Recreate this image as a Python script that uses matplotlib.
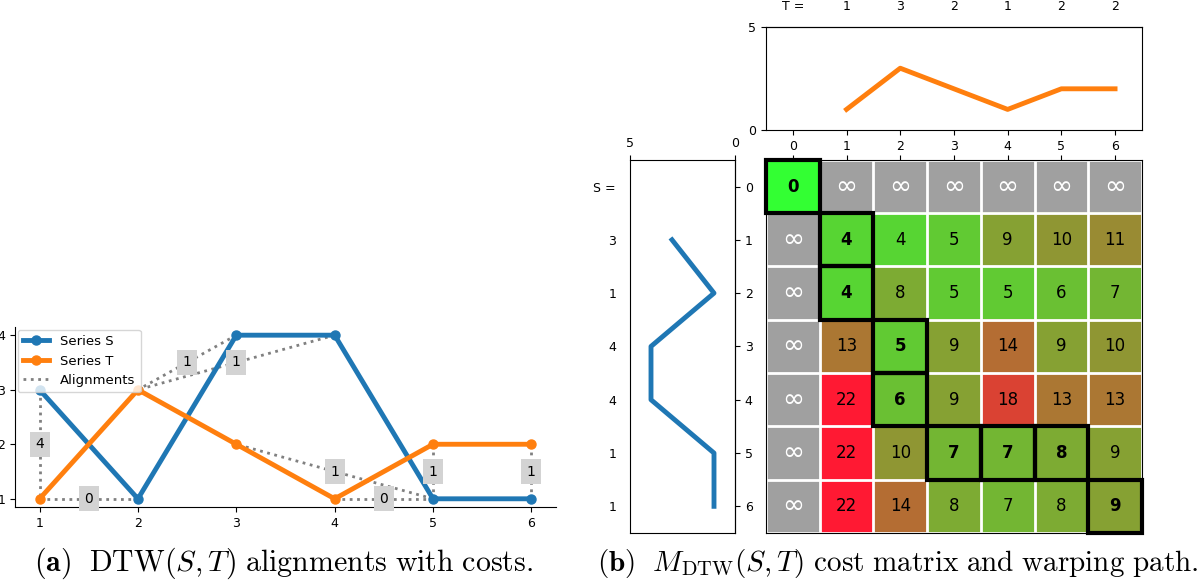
import numpy as np
import matplotlib
matplotlib.use('Agg')
import matplotlib.pyplot as plt
from matplotlib.colors import LinearSegmentedColormap
from matplotlib.patches import Rectangle

plt.rcParams['mathtext.fontset'] = 'cm'

# series
idx = [1, 2, 3, 4, 5, 6]
S = [3, 1, 4, 4, 1, 1]
T = [1, 3, 2, 1, 2, 2]

# alignments: (position in S, position in T, cost)
align_s = [1, 2, 3, 4, 5, 5, 5, 6]
align_t = [1, 1, 2, 2, 3, 4, 5, 6]
align_cost = [4, 0, 1, 1, 1, 0, 1, 1]

# cumulative cost matrix (inf = not reachable)
INF = np.inf
M = np.array([
    [0, INF, INF, INF, INF, INF, INF],
    [INF, 4, 4, 5, 9, 10, 11],
    [INF, 4, 8, 5, 5, 6, 7],
    [INF, 13, 5, 9, 14, 9, 10],
    [INF, 22, 6, 9, 18, 13, 13],
    [INF, 22, 10, 7, 7, 8, 9],
    [INF, 22, 14, 8, 7, 8, 9],
])
path_rows = [0, 1, 2, 3, 4, 5, 5, 5, 6]
path_cols = [0, 1, 1, 2, 2, 3, 4, 5, 6]

blue = '#1f77b4'
orange = '#ff7f0e'

fig = plt.figure(figsize=(12, 5.83), dpi=100)

# ---------- (a) alignments ----------
ax = fig.add_axes([0.0125, 0.1304, 0.4508, 0.3087])
first = True
for i, j, c in zip(align_s, align_t, align_cost):
    xs = [i, j]
    ys = [S[i - 1], T[j - 1]]
    ax.plot(xs, ys, ':', color='gray', lw=2, zorder=1,
            label='Alignments' if first else None)
    first = False
    ax.text((i + j) / 2, (ys[0] + ys[1]) / 2, str(c), fontsize=10,
            ha='center', va='center', zorder=5,
            bbox=dict(facecolor='lightgray', edgecolor='none', pad=4))
ax.plot(idx, S, '-o', color=blue, lw=3.5, ms=6.5, label='Series S', zorder=3)
ax.plot(idx, T, '-o', color=orange, lw=3.5, ms=6.5, label='Series T', zorder=3)
h, l = ax.get_legend_handles_labels()
ax.legend([h[1], h[2], h[0]], [l[1], l[2], l[0]], loc='upper left',
          fontsize=9.5, borderaxespad=0.2)
ax.spines['top'].set_visible(False)
ax.spines['right'].set_visible(False)
ax.set_xticks(idx)
ax.set_yticks([1, 2, 3, 4])
ax.tick_params(labelsize=9)

# ---------- (b) cost matrix ----------
cmap = LinearSegmentedColormap.from_list('gr', [(0.2, 1.0, 0.2), (1.0, 0.1, 0.2)])
cmap.set_bad('#a0a0a0')
axm = fig.add_axes([0.6383, 0.0858, 0.3133, 0.640])
axm.imshow(np.ma.masked_invalid(M), cmap=cmap, vmin=0, vmax=22, aspect='auto')
n = M.shape[0]
axm.set_xticks(np.arange(n))
axm.set_xticklabels([])
axm.xaxis.tick_top()
axm.set_yticks([])
axm.set_xticks(np.arange(-0.5, n, 1), minor=True)
axm.set_yticks(np.arange(-0.5, n, 1), minor=True)
axm.grid(which='minor', color='white', lw=2)
axm.tick_params(which='minor', length=0)
on_path = set(zip(path_rows, path_cols))
for r in range(n):
    for c in range(n):
        v = M[r, c]
        if np.isinf(v):
            axm.text(c, r, '∞', color='white', ha='center', va='center', fontsize=19)
        else:
            axm.text(c, r, str(int(v)), color='black', ha='center', va='center',
                     fontsize=12, fontweight='bold' if (r, c) in on_path else 'normal')
for r, c in zip(path_rows, path_cols):
    axm.add_patch(Rectangle((c - 0.5, r - 0.5), 1, 1, fill=False,
                            ec='black', lw=3, zorder=4, clip_on=False))
axm.set_xlim(-0.5, n - 0.5)
axm.set_ylim(n - 0.5, -0.5)

# T on top
axt = fig.add_axes([0.6383, 0.777, 0.3133, 0.1767])
axt.plot(idx, T, color=orange, lw=3.5)
axt.set_xlim(-0.5, n - 0.5)
axt.set_ylim(0, 5)
axt.set_yticks([0, 5])
axt.set_xticks(np.arange(n))
axt.tick_params(labelsize=9)
sec = axt.secondary_xaxis('top')
sec.set_xticks(np.arange(n))
sec.set_xticklabels(['T ='] + [str(v) for v in T])
sec.tick_params(length=0, pad=10, labelsize=9)

# S on the left
axs = fig.add_axes([0.525, 0.0858, 0.0875, 0.640])
axs.plot(S, idx, color=blue, lw=3.5)
axs.set_xlim(5, 0)
axs.set_ylim(n - 0.5, -0.5)
axs.set_xticks([5, 0])
axs.xaxis.tick_top()
axs.set_yticks(np.arange(n))
axs.set_yticklabels(['S ='] + [str(v) for v in S])
axs.tick_params(axis='y', length=0, pad=10, labelsize=9)
axs.tick_params(axis='x', labelsize=9)
sec2 = axs.secondary_yaxis('right')
sec2.set_yticks(np.arange(n))
sec2.tick_params(labelsize=9)

# captions
fig.text(0.236, 0.034,
         r'$\mathbf{(a)}\ \ \mathrm{DTW}(S,T)\ \mathrm{alignments\ with\ costs.}$',
         ha='center', va='center', fontsize=21.5)
fig.text(0.748, 0.034,
         r'$\mathbf{(b)}\ \ M_{\mathrm{DTW}}(S,T)\ \mathrm{cost\ matrix\ and\ warping\ path.}$',
         ha='center', va='center', fontsize=21)

fig.savefig('out.png', dpi=100)
